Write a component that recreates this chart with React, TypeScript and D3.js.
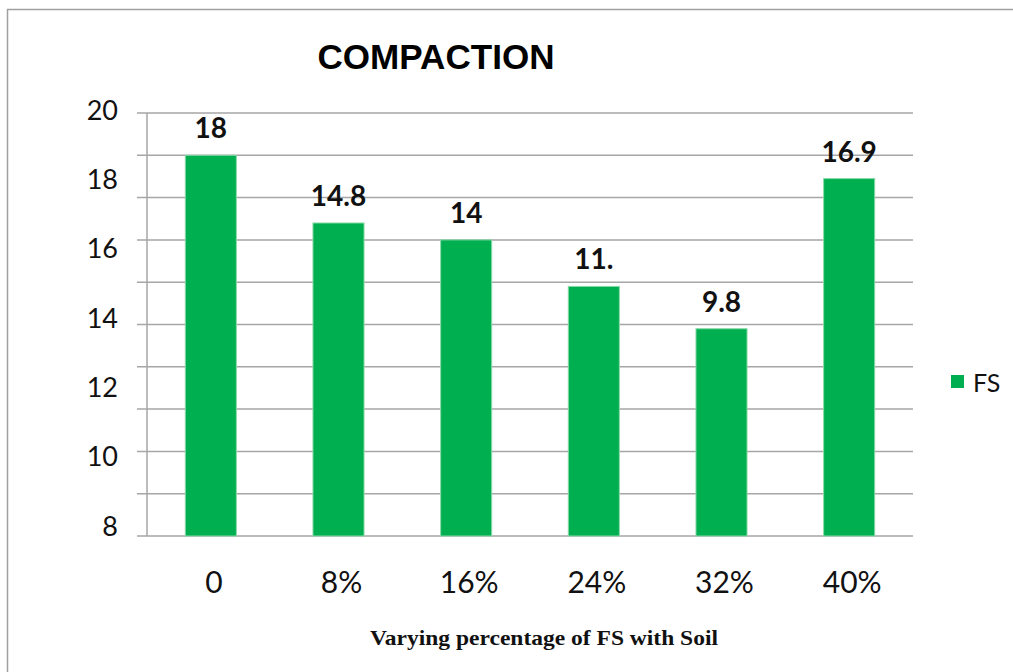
import React from "react";
import * as d3 from "d3";

const categories = ["0", "8%", "16%", "24%", "32%", "40%"];
const values = [18, 14.8, 14, 11.8, 9.8, 16.9];
const valueLabels = ["18", "14.8", "14", "11.", "9.8", "16.9"];
const yTickLabels = ["20", "18", "16", "14", "12", "10", "8"];
const gridValues = d3.range(0, 21, 2);

const W = 1013;
const H = 672;
const plot = { left: 147, right: 913, top: 113, bottom: 536 };
const green = "#00B050";
const gridColor = "#a6a6a6";
const sans = "Lato, 'Open Sans', sans-serif";

const App = () => {
  const x = d3
    .scaleBand()
    .domain(categories)
    .range([plot.left, plot.right])
    .paddingInner(0.6)
    .paddingOuter(0.3);

  const y = d3.scaleLinear().domain([0, 20]).range([plot.bottom, plot.top]);

  // the printed tick labels do not line up with the grid in the original
  const yLab = d3.scalePoint().domain(yTickLabels).range([109, 525]);

  return (
    <svg
      width={W}
      height={H}
      style={{ position: "absolute", left: 0, top: 0, background: "#fff" }}
    >
      <rect x={7.5} y={9.5} width={W + 20} height={H + 20} fill="#fff" stroke="#a0a0a0" strokeWidth={1.5} />

      <text
        x={436}
        y={69}
        textAnchor="middle"
        fontFamily="'Liberation Sans', Arial, sans-serif"
        fontWeight="bold"
        fontSize={35}
        textLength={237}
        lengthAdjust="spacingAndGlyphs"
      >
        COMPACTION
      </text>

      {gridValues.map((v) => (
        <line
          key={v}
          x1={plot.left - 10}
          x2={plot.right}
          y1={y(v)}
          y2={y(v)}
          stroke={gridColor}
          strokeWidth={1.5}
        />
      ))}
      <line x1={plot.left} x2={plot.left} y1={plot.top} y2={plot.bottom} stroke={gridColor} strokeWidth={1.5} />

      {yTickLabels.map((t) => (
        <text
          key={t}
          x={118}
          y={yLab(t)}
          textAnchor="end"
          dominantBaseline="central"
          fontFamily={sans}
          fontSize={27}
          fill="#111"
        >
          {t}
        </text>
      ))}

      {categories.map((c, i) => (
        <g key={c}>
          <rect
            x={x(c)}
            y={y(values[i])}
            width={x.bandwidth()}
            height={y(0) - y(values[i])}
            fill={green}
            stroke="#8ad9a8"
            strokeWidth={1}
          />
          <text
            x={(x(c) as number) + x.bandwidth() / 2}
            y={y(values[i]) - 17}
            textAnchor="middle"
            fontFamily={sans}
            fontWeight="bold"
            fontSize={28}
            fill="#111"
          >
            {valueLabels[i]}
          </text>
          <text
            x={(x(c) as number) + x.bandwidth() / 2 + 3}
            y={593}
            textAnchor="middle"
            fontFamily={sans}
            fontSize={30}
            fill="#111"
          >
            {c}
          </text>
        </g>
      ))}

      <text
        x={544}
        y={645}
        textAnchor="middle"
        fontFamily="'Liberation Serif', 'Times New Roman', serif"
        fontWeight="bold"
        fontSize={21}
        textLength={348}
        lengthAdjust="spacingAndGlyphs"
        fill="#111"
      >
        Varying percentage of FS with Soil
      </text>

      <rect x={951} y={375} width={13} height={13} fill={green} />
      <text x={973} y={392} fontFamily={sans} fontSize={25} fill="#111">
        FS
      </text>
    </svg>
  );
};

export default App;
